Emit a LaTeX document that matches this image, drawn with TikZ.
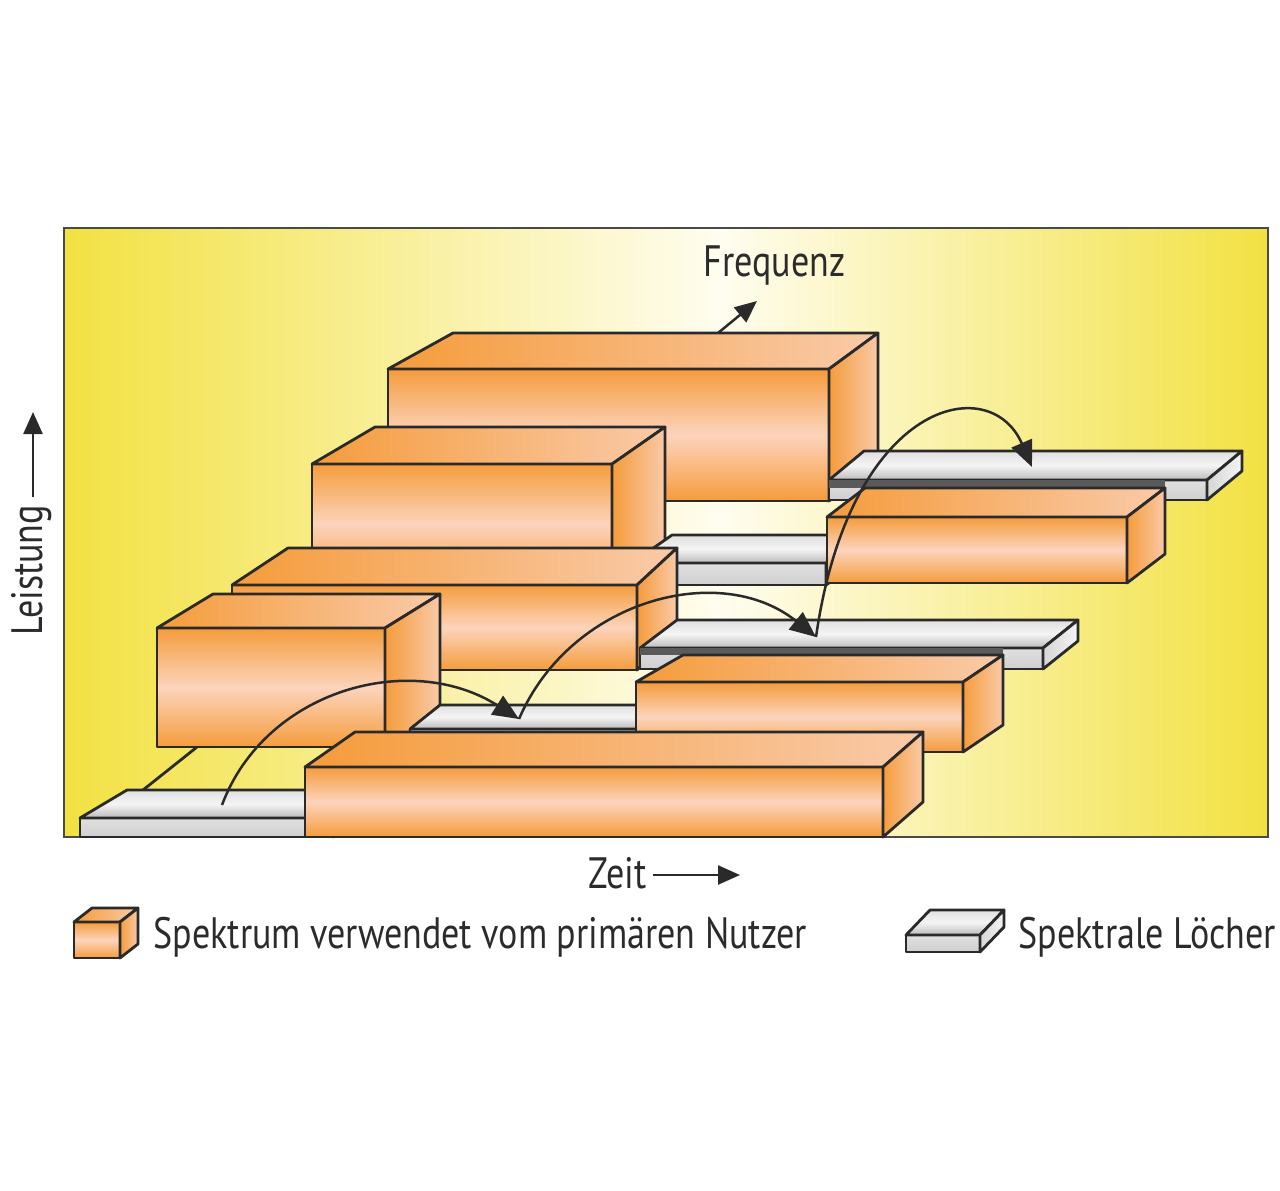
\documentclass[tikz,border=0pt]{standalone}
\usepackage{fontspec}
\usepackage{tikz}
\usetikzlibrary{arrows.meta}
\newfontfamily\lblfont{PT Sans}[FakeStretch=0.82]
\definecolor{bgyellow}{HTML}{F2E142}
\definecolor{bgcream}{HTML}{FFFDF0}
\definecolor{edgegray}{HTML}{2A2A2A}
\definecolor{boxorange}{HTML}{F59C3C}
\definecolor{boxpeach}{HTML}{FCD4BC}
\definecolor{boxlight}{HTML}{F9CAA8}
\definecolor{holelight}{HTML}{F4F4F4}
\definecolor{holemid}{HTML}{E0E0E0}
\definecolor{holegray}{HTML}{BBBBBB}
\definecolor{shadowgray}{HTML}{5A5A5A}
\definecolor{textgray}{HTML}{2B2B2B}
\tikzset{
  outline/.style={draw=edgegray, line width=0.28mm, line join=round},
  frontface/.style={outline, top color=boxorange, bottom color=boxorange, middle color=boxpeach},
  topface/.style={outline, left color=boxorange, right color=boxlight},
  sideface/.style={outline, left color=boxorange, right color=boxlight},
  holetop/.style={outline, top color=holemid, bottom color=holegray, middle color=holelight},
  holefront/.style={outline, top color=holemid, bottom color=holegray!70},
  holeside/.style={outline, left color=holegray!60, right color=holelight},
  hop/.style={-{Triangle[length=2.6mm,width=2.2mm]}, line width=0.25mm, draw=edgegray},
  axisarrow/.style={-{Triangle[length=2.2mm,width=1.9mm]}, line width=0.25mm, draw=edgegray},
  caption/.style={font=\lblfont\fontsize{12.5pt}{14pt}\selectfont, text=textgray, inner sep=0pt}
}
% block: x left, x right, y top, y bottom, depth dx left, depth dx right, depth rise
\newcommand{\usedblock}[7]{%
  \path[frontface] (#1,#3) rectangle (#2,#4);
  \path[topface] (#1,#3) -- ({#1+#5},{#3-#7}) -- ({#2+#6},{#3-#7}) -- (#2,#3) -- cycle;
  \path[sideface] (#2,#3) -- ({#2+#6},{#3-#7}) -- ({#2+#6},{#4-#7}) -- (#2,#4) -- cycle;
}
\newcommand{\holeslab}[7]{%
  \path[holefront] (#1,#3) rectangle (#2,#4);
  \path[holetop] (#1,#3) -- ({#1+#5},{#3-#7}) -- ({#2+#6},{#3-#7}) -- (#2,#3) -- cycle;
  \path[holeside] (#2,#3) -- ({#2+#6},{#3-#7}) -- ({#2+#6},{#4-#7}) -- (#2,#4) -- cycle;
}

\begin{document}
\begin{tikzpicture}[x=0.1mm, y=-0.1mm]
  \useasboundingbox (0,0) rectangle (1280,1190);

  % background panel
  \shade[left color=bgyellow, right color=bgcream] (64,228) rectangle (721,837);
  \shade[left color=bgcream, right color=bgyellow] (720,228) rectangle (1268,837);
  \draw[draw=edgegray!85, line width=0.25mm] (64,228) rectangle (1268,837);

  % back row
  \usedblock{388}{829}{369}{501}{65}{49}{36}
  \holeslab{829}{1207}{480}{500}{35}{35}{29}
  % second row
  \usedblock{312}{612}{464}{584}{63}{53}{37}
  \holeslab{632}{826}{563}{585}{40}{40}{28}
  \fill[shadowgray] (829,480) rectangle (1165,488);
  \usedblock{827}{1127}{517}{583}{38}{38}{29}
  % third row
  \usedblock{232}{637}{585}{670}{56}{40}{37}
  \holeslab{640}{1043}{648}{669}{37}{35}{28}
  % fourth row
  \usedblock{157}{385}{628}{747}{56}{55}{34}
  \draw[outline] (197,747) -- (143,790);
  \holeslab{410}{660}{729}{750}{30}{30}{24}
  \fill[shadowgray] (640,648) rectangle (1003,655);
  \usedblock{636}{963}{682}{752}{47}{40}{27}
  % front row
  \holeslab{80}{333}{818}{837}{47}{47}{28}
  \usedblock{305}{883}{767}{837}{50}{40}{35}

  % hops between the spectral holes
  \coordinate (holeA) at (222,805);
  \coordinate (holeB) at (519,719);
  \coordinate (holeC) at (816,637);
  \coordinate (holeD) at (1032,467);
  \draw[hop] (holeA) .. controls (265,690) and (410,650) .. (holeB);
  \draw[hop] (holeB) .. controls (570,600) and (720,560) .. (holeC);
  \draw[hop] (holeC) .. controls (850,400) and (990,370) .. (holeD);

  % axes
  \node[caption, anchor=base west] (freqlabel) at (703,276) {Frequenz};
  \coordinate (freqtail) at (718,333);
  \coordinate (freqtip) at (757,301);
  \draw[axisarrow] (freqtail) -- (freqtip);

  \node[caption, anchor=base west] (zeitlabel) at (588,888) {Zeit};
  \coordinate (zeittail) at (653,875);
  \coordinate (zeittip) at (740,875);
  \draw[axisarrow] (zeittail) -- (zeittip);

  \node[caption, rotate=90, anchor=base west] (leistlabel) at (43,636) {Leistung};
  \coordinate (leisttail) at (33,497);
  \coordinate (leisttip) at (33,412);
  \draw[axisarrow] (leisttail) -- (leisttip);

  % legend
  \usedblock{74}{120}{922}{958}{18}{18}{14}
  \node[caption, anchor=base west] (keyused) at (153,948) {Spektrum verwendet vom primären Nutzer};
  \holeslab{906}{980}{935}{952}{24}{24}{25}
  \node[caption, anchor=base west] (keyholes) at (1018,948) {Spektrale Löcher};
\end{tikzpicture}
\end{document}
